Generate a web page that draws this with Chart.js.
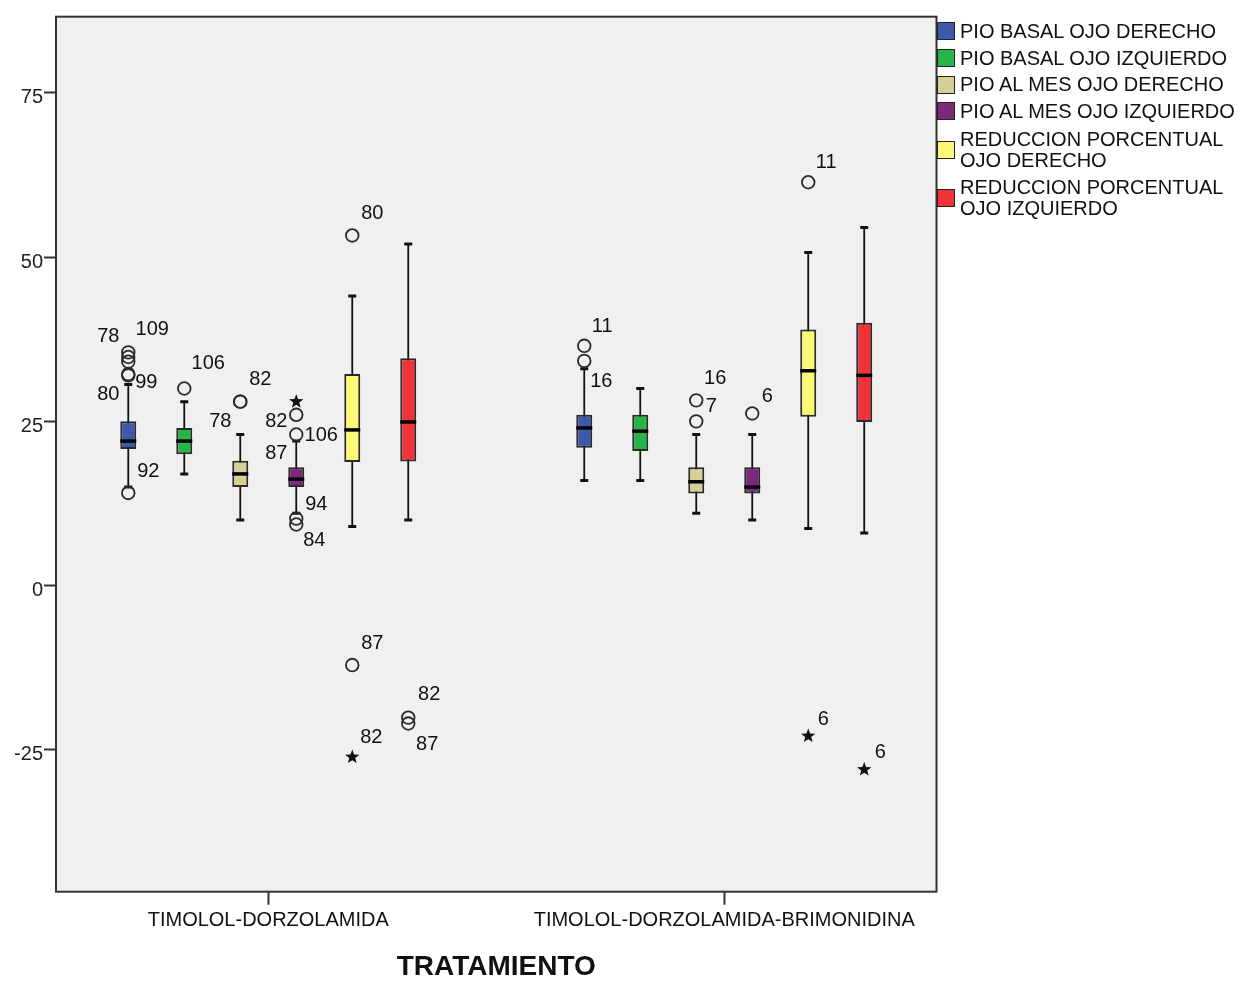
<!DOCTYPE html>
<html>
<head>
<meta charset="utf-8">
<script src="https://cdn.jsdelivr.net/npm/chart.js@4.4.0/dist/chart.umd.min.js"></script>
<style>
  body { margin: 0; background: #fff; }
  #wrap { position: relative; width: 1240px; height: 981px; }
  #leyenda { position: absolute; left: 937px; top: 18px; font-family: "Liberation Sans", Arial, sans-serif; font-size: 20px; color: #111; }
  .item { display: flex; align-items: center; }
  .caja { width: 16px; height: 16px; border: 1.5px solid #222; margin-right: 5px; flex: none; }
  .txt { line-height: 21px; white-space: pre-line; }
</style>
</head>
<body>
<div id="wrap">
  <canvas id="grafico" width="1240" height="981"></canvas>
  <div id="leyenda"></div>
</div>
<script>
const grupos = ['TIMOLOL-DORZOLAMIDA', 'TIMOLOL-DORZOLAMIDA-BRIMONIDINA'];
const series = [
  'PIO BASAL OJO DERECHO',
  'PIO BASAL OJO IZQUIERDO',
  'PIO AL MES OJO DERECHO',
  'PIO AL MES OJO IZQUIERDO',
  'REDUCCION PORCENTUAL\nOJO DERECHO',
  'REDUCCION PORCENTUAL\nOJO IZQUIERDO'
];
const colores = ['#3e58ac', '#27b548', '#d6cf98', '#7c287d', '#fbf873', '#ef3338'];

// [serie][grupo]
const bigoteInf = [[15, 16], [17, 16], [10, 11], [11, 10], [9, 8.7], [10, 8]];
const q1 = [[20.8, 21], [20, 20.5], [15, 14], [15, 14], [18.8, 25.7], [18.9, 24.9]];
const mediana = [[22, 24], [22, 23.5], [17, 15.8], [16.2, 15], [23.7, 32.7], [24.9, 32]];
const q3 = [[25, 26], [24, 26], [19, 18], [18, 18], [32.2, 39], [34.6, 40]];
const bigoteSup = [[30.6, 33], [28, 30], [23, 23], [22, 23], [44.1, 50.7], [52, 54.5]];

// [serie, grupo, valor, tipo, etiqueta]
const atipicos = [
  [0, 0, 35.5, 'o', '78'], [0, 0, 34.8, 'o', '109'], [0, 0, 34.1, 'o', ''],
  [0, 0, 32.2, 'o', '80'], [0, 0, 32.0, 'o', '99'], [0, 0, 14.1, 'o', '92'],
  [1, 0, 30, 'o', '106'],
  [2, 0, 28, 'o', '82'], [2, 0, 28, 'o', '78'],
  [3, 0, 28, '*', '87'], [3, 0, 26, 'o', '82'], [3, 0, 23, 'o', '106'],
  [3, 0, 10.2, 'o', '94'], [3, 0, 9.3, 'o', '84'],
  [4, 0, 53.3, 'o', '80'], [4, 0, -12.1, 'o', '87'], [4, 0, -26.1, '*', '82'],
  [5, 0, -20.1, 'o', '82'], [5, 0, -21, 'o', '87'],
  [0, 1, 36.5, 'o', '11'], [0, 1, 34.2, 'o', '16'],
  [2, 1, 28.2, 'o', '16'], [2, 1, 25, 'o', '7'],
  [3, 1, 26.2, 'o', '6'],
  [4, 1, 61.4, 'o', '11'], [4, 1, -22.9, '*', '6'],
  [5, 1, -28, '*', '6']
];
// desplazamiento de cada etiqueta respecto a su marcador (px)
const despEtiq = [
  [-20, -16], [24, -27], [0, 0], [-20, 20], [18, 7], [20, -21],
  [24, -25],
  [20, -22], [-20, 20],
  [-20, 52], [-20, 7], [25, 1], [20, -14], [18, 16],
  [20, -22], [20, -22], [19, -20],
  [21, -23], [19, 21],
  [18, -19], [17, 21],
  [19, -22], [15, -15],
  [15, -17],
  [18, -20], [15, -17],
  [16, -17]
];
const marcasY = [-25, 0, 25, 50, 75];

const fuente = '"Liberation Sans", Arial, sans-serif';

function estrella(c, x, y, r) {
  c.beginPath();
  for (let k = 0; k < 10; k++) {
    const rr = k % 2 ? r * 0.42 : r;
    const a = -Math.PI / 2 + k * Math.PI / 5;
    c.lineTo(x + rr * Math.cos(a), y + rr * Math.sin(a));
  }
  c.closePath();
  c.fill();
}

const cajas = {
  id: 'cajas',
  beforeDraw(chart) {
    const a = chart.chartArea, c = chart.ctx;
    c.save();
    c.fillStyle = '#f0f0f0';
    c.fillRect(a.left, a.top, a.right - a.left, a.bottom - a.top);
    c.restore();
  },
  beforeDatasetsDraw(chart) {
    const c = chart.ctx, y = chart.scales.y;
    c.save();
    c.strokeStyle = '#111';
    series.forEach((_, s) => {
      chart.getDatasetMeta(s).data.forEach((el, g) => {
        const yb = y.getPixelForValue(bigoteInf[s][g]);
        const ys = y.getPixelForValue(bigoteSup[s][g]);
        c.lineWidth = 1.8;
        c.beginPath(); c.moveTo(el.x, yb); c.lineTo(el.x, ys); c.stroke();
        c.lineWidth = 3;
        c.beginPath();
        c.moveTo(el.x - 4, yb); c.lineTo(el.x + 4, yb);
        c.moveTo(el.x - 4, ys); c.lineTo(el.x + 4, ys);
        c.stroke();
      });
    });
    c.restore();
  },
  afterDatasetsDraw(chart) {
    const c = chart.ctx, y = chart.scales.y;
    c.save();
    c.strokeStyle = '#000';
    c.lineWidth = 3.5;
    series.forEach((_, s) => {
      chart.getDatasetMeta(s).data.forEach((el, g) => {
        const ym = y.getPixelForValue(mediana[s][g]);
        c.beginPath(); c.moveTo(el.x - el.width / 2, ym); c.lineTo(el.x + el.width / 2, ym); c.stroke();
      });
    });
    c.font = '20px ' + fuente;
    c.textAlign = 'center';
    c.textBaseline = 'middle';
    atipicos.forEach((o, i) => {
      const el = chart.getDatasetMeta(o[0]).data[o[1]];
      const px = el.x, py = y.getPixelForValue(o[2]);
      if (o[3] === '*') {
        c.fillStyle = '#111';
        estrella(c, px, py, 7.5);
      } else {
        c.strokeStyle = '#2a2a2a';
        c.lineWidth = 1.8;
        c.beginPath(); c.arc(px, py, 6.3, 0, Math.PI * 2); c.stroke();
      }
      if (o[4]) {
        c.fillStyle = '#111';
        c.fillText(o[4], px + despEtiq[i][0], py + despEtiq[i][1]);
      }
    });
    c.restore();
  },
  afterDraw(chart) {
    const a = chart.chartArea, c = chart.ctx;
    c.save();
    c.strokeStyle = '#333';
    c.lineWidth = 2;
    c.strokeRect(a.left, a.top, a.right - a.left, a.bottom - a.top);
    c.restore();
  }
};

new Chart(document.getElementById('grafico'), {
  type: 'bar',
  data: {
    datasets: series.map((n, s) => ({
      label: n,
      data: grupos.map((_, g) => ({ x: g, y: [q1[s][g], q3[s][g]] })),
      backgroundColor: colores[s],
      borderColor: '#2a2a2a',
      borderWidth: 2,
      borderSkipped: false,
      categoryPercentage: 0.7368,
      barPercentage: 0.2857
    }))
  },
  options: {
    responsive: false,
    animation: false,
    devicePixelRatio: 1,
    layout: { padding: { top: 16.7, right: 303.5, left: 0, bottom: 0 } },
    plugins: { legend: { display: false }, tooltip: { enabled: false } },
    scales: {
      x: {
        type: 'linear',
        offset: false,
        min: -0.4655,
        max: 1.4655,
        afterBuildTicks: sc => { sc.ticks = grupos.map((_, i) => ({ value: i })); },
        afterFit: sc => { sc.height = 89.3; },
        grid: { offset: false, drawOnChartArea: false, drawTicks: true, tickLength: 13, tickWidth: 2, tickColor: '#333' },
        border: { display: false },
        ticks: {
          callback: v => grupos[v],
          font: { size: 20, family: fuente },
          color: '#111',
          padding: 4,
          maxRotation: 0,
          autoSkip: false
        },
        title: {
          display: true,
          text: 'TRATAMIENTO',
          font: { size: 28, weight: 'bold', family: fuente, lineHeight: 1 },
          color: '#111',
          padding: 0
        }
      },
      y: {
        min: -46.6,
        max: 86.6,
        afterBuildTicks: sc => { sc.ticks = marcasY.map(v => ({ value: v })); },
        afterFit: sc => { sc.width = 56; },
        grid: { drawOnChartArea: false, drawTicks: true, tickLength: 12, tickWidth: 2, tickColor: '#333' },
        border: { display: false },
        ticks: { font: { size: 20, family: fuente }, color: '#222', padding: 1, labelOffset: 5 }
      }
    }
  },
  plugins: [cajas]
});

// leyenda a la derecha
const leyenda = document.getElementById('leyenda');
const altos = [26.7, 26.7, 26.7, 26.7, 50, 47];
series.forEach((n, s) => {
  const item = document.createElement('div');
  item.className = 'item';
  item.style.height = altos[s] + 'px';
  const caja = document.createElement('div');
  caja.className = 'caja';
  caja.style.background = colores[s];
  const txt = document.createElement('div');
  txt.className = 'txt';
  txt.textContent = n;
  item.appendChild(caja);
  item.appendChild(txt);
  leyenda.appendChild(item);
});
</script>
</body>
</html>
